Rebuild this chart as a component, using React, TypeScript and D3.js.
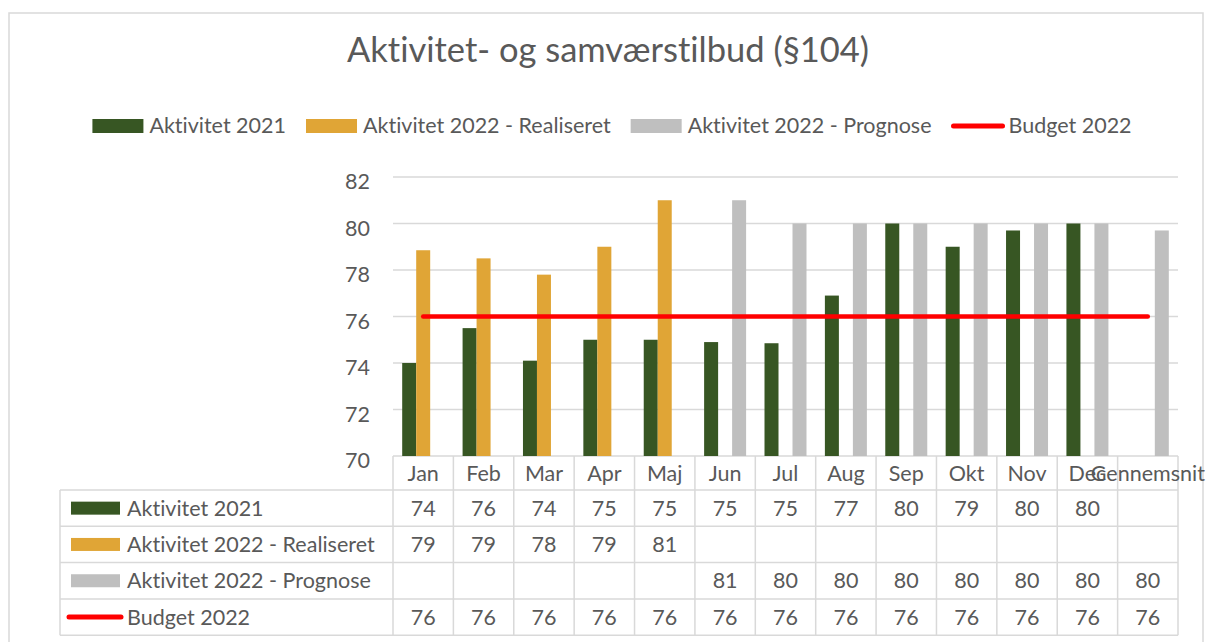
import React, { useEffect, useRef } from 'react';
import * as d3 from 'd3';

// chart data
const categories = ['Jan', 'Feb', 'Mar', 'Apr', 'Maj', 'Jun', 'Jul', 'Aug', 'Sep', 'Okt', 'Nov', 'Dec', 'Gennemsnit'];
const aktivitet2021 = [74.0, 75.5, 74.1, 75.0, 75.0, 74.9, 74.85, 76.9, 80.0, 79.0, 79.7, 80.0, null];
const realiseret2022 = [78.85, 78.5, 77.8, 79.0, 81.0, null, null, null, null, null, null, null, null];
const prognose2022 = [null, null, null, null, null, 81.0, 80.0, 80.0, 80.0, 80.0, 80.0, 80.0, 79.7];
const budget2022 = [76, 76, 76, 76, 76, 76, 76, 76, 76, 76, 76, 76, 76];
const yTicks = [70, 72, 74, 76, 78, 80, 82];

const seriesNames = ['Aktivitet 2021', 'Aktivitet 2022 - Realiseret', 'Aktivitet 2022 - Prognose', 'Budget 2022'];
const barSeries = [aktivitet2021, realiseret2022, prognose2022];
const colors = ['#375623', '#e0a536', '#bfbfbf', '#ff0000'];

const title = 'Aktivitet- og samværstilbud (§104)';

export default function App() {
    const ref = useRef<SVGSVGElement>(null);

    useEffect(() => {
        document.body.style.margin = '0';
        const svg = d3.select(ref.current);
        svg.selectAll('*').remove();
        svg.style('font-variant-ligatures', 'none');

        const font = 'Lato, "Open Sans", sans-serif';
        const fs = 21.5;
        const textColor = '#595959';
        const lineColor = '#d9d9d9';

        // outer frame
        svg.append('rect')
            .attr('x', 9).attr('y', 13)
            .attr('width', 1194).attr('height', 700)
            .attr('fill', '#fff')
            .attr('stroke', lineColor).attr('stroke-width', 1.5);

        // title
        svg.append('text')
            .attr('x', 608).attr('y', 62)
            .attr('text-anchor', 'middle')
            .attr('font-family', font).attr('font-size', 34.5)
            .attr('fill', textColor)
            .text(title);

        // plot scales
        const plot = { left: 393, right: 1178, top: 177, bottom: 456 };
        const x0 = d3.scaleBand().domain(categories).range([plot.left, plot.right]);
        const x1 = d3.scaleBand<number>().domain([0, 1, 2]).range([0, x0.bandwidth()]).paddingOuter(0.657);
        const y = d3.scaleLinear().domain([70, 82]).range([plot.bottom, plot.top]);

        // gridlines + y labels
        svg.append('g').selectAll('line').data(yTicks).join('line')
            .attr('x1', plot.left).attr('x2', plot.right)
            .attr('y1', d => y(d)).attr('y2', d => y(d))
            .attr('stroke', lineColor).attr('stroke-width', 1.5);

        svg.append('g').selectAll('text').data(yTicks).join('text')
            .attr('x', 370).attr('y', d => y(d) + 12)
            .attr('text-anchor', 'end')
            .attr('font-family', font).attr('font-size', fs)
            .attr('fill', textColor)
            .text(d => d);

        // bars
        barSeries.forEach((values, si) => {
            svg.append('g').selectAll('rect')
                .data(values.map((v, i) => ({ v, c: categories[i] })).filter(d => d.v != null))
                .join('rect')
                .attr('x', d => (x0(d.c) as number) + (x1(si) as number))
                .attr('width', x1.bandwidth())
                .attr('y', d => y(d.v as number))
                .attr('height', d => y(70) - y(d.v as number))
                .attr('fill', colors[si]);
        });

        // budget line
        const line = d3.line<number>()
            .x((d, i) => (x0(categories[i]) as number) + x0.bandwidth() / 2)
            .y(d => y(d));
        svg.append('path')
            .datum(budget2022)
            .attr('d', line)
            .attr('fill', 'none')
            .attr('stroke', colors[3]).attr('stroke-width', 4.5)
            .attr('stroke-linecap', 'round');

        // data table
        const tableLeft = 60;
        const rowTop = 490;
        const rowH = 36.3;
        const tbl = svg.append('g');
        for (let i = 0; i <= 4; i++) {
            tbl.append('line')
                .attr('x1', tableLeft).attr('x2', plot.right)
                .attr('y1', rowTop + i * rowH).attr('y2', rowTop + i * rowH)
                .attr('stroke', lineColor).attr('stroke-width', 1.5);
        }
        tbl.append('line')
            .attr('x1', tableLeft).attr('x2', tableLeft)
            .attr('y1', rowTop).attr('y2', rowTop + 4 * rowH)
            .attr('stroke', lineColor).attr('stroke-width', 1.5);
        const bounds = categories.map(c => x0(c) as number).concat([plot.right]);
        tbl.selectAll('line.col').data(bounds).join('line')
            .attr('class', 'col')
            .attr('x1', d => d).attr('x2', d => d)
            .attr('y1', plot.bottom).attr('y2', rowTop + 4 * rowH)
            .attr('stroke', lineColor).attr('stroke-width', 1.5);

        // category labels
        tbl.selectAll('text.cat').data(categories).join('text')
            .attr('class', 'cat')
            .attr('x', d => (x0(d) as number) + x0.bandwidth() / 2)
            .attr('y', 481)
            .attr('text-anchor', 'middle')
            .attr('font-family', font).attr('font-size', fs)
            .attr('fill', textColor)
            .text(d => d);

        const allSeries = [aktivitet2021, realiseret2022, prognose2022, budget2022];
        allSeries.forEach((values, si) => {
            const cy = rowTop + si * rowH + rowH / 2;
            if (si < 3) {
                tbl.append('rect')
                    .attr('x', 71).attr('y', cy - 6.5)
                    .attr('width', 49).attr('height', 13)
                    .attr('fill', colors[si]);
            } else {
                tbl.append('line')
                    .attr('x1', 69).attr('x2', 121)
                    .attr('y1', cy).attr('y2', cy)
                    .attr('stroke', colors[si]).attr('stroke-width', 5)
                    .attr('stroke-linecap', 'round');
            }
            tbl.append('text')
                .attr('x', 127).attr('y', cy + 7.5)
                .attr('font-family', font).attr('font-size', fs)
                .attr('fill', textColor)
                .text(seriesNames[si]);
            tbl.append('g').selectAll('text')
                .data(values.map((v, i) => ({ v, c: categories[i] })).filter(d => d.v != null))
                .join('text')
                .attr('x', d => (x0(d.c) as number) + x0.bandwidth() / 2)
                .attr('y', cy + 7.5)
                .attr('text-anchor', 'middle')
                .attr('font-family', font).attr('font-size', fs)
                .attr('fill', textColor)
                .text(d => Math.round(d.v as number));
        });

        // top legend, centred
        const legend = svg.append('g');
        let cursor = 0;
        seriesNames.forEach((name, si) => {
            const item = legend.append('g').attr('transform', 'translate(' + cursor + ',0)');
            if (si < 3) {
                item.append('rect')
                    .attr('x', 0).attr('y', 119)
                    .attr('width', 51).attr('height', 14)
                    .attr('fill', colors[si]);
            } else {
                item.append('line')
                    .attr('x1', 2).attr('x2', 51)
                    .attr('y1', 126).attr('y2', 126)
                    .attr('stroke', colors[si]).attr('stroke-width', 5)
                    .attr('stroke-linecap', 'round');
            }
            const t = item.append('text')
                .attr('x', 57).attr('y', 133)
                .attr('font-family', font).attr('font-size', fs)
                .attr('fill', textColor)
                .text(name);
            const w = (t.node() as SVGTextElement).getComputedTextLength();
            cursor += 57 + w + 20;
        });
        const total = cursor - 20;
        legend.attr('transform', 'translate(' + (612 - total / 2) + ',0)');
    }, []);

    return <svg ref={ref} width={1208} height={642} style={{ display: 'block' }} />;
}
